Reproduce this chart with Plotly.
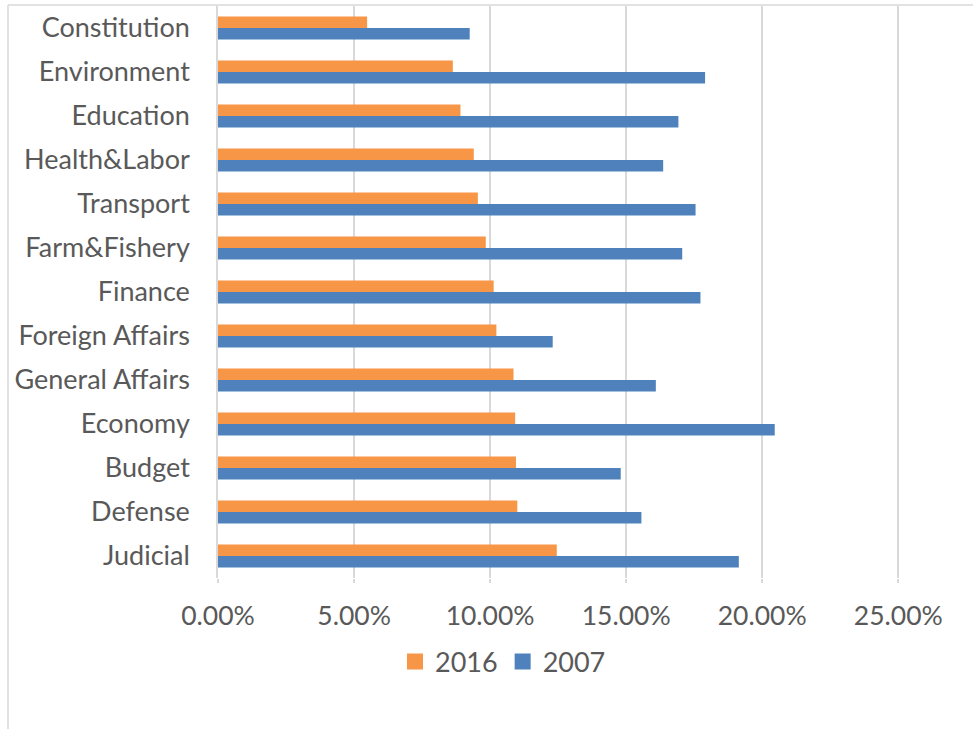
import plotly.graph_objects as go

categories = ["Constitution", "Environment", "Education", "Health&Labor", "Transport",
              "Farm&Fishery", "Finance", "Foreign Affairs", "General Affairs", "Economy",
              "Budget", "Defense", "Judicial"]
values_2016 = [0.0548, 0.0863, 0.0891, 0.0940, 0.0955, 0.0984, 0.1013, 0.1023, 0.1086,
               0.1092, 0.1095, 0.1100, 0.1245]
values_2007 = [0.0925, 0.1790, 0.1692, 0.1636, 0.1755, 0.1706, 0.1773, 0.1230, 0.1609,
               0.2046, 0.1480, 0.1556, 0.1914]
series_names = ["2016", "2007"]
series_colors = ["#F79646", "#4F81BD"]
x_ticks = [0, 0.05, 0.10, 0.15, 0.20, 0.25]
x_tick_labels = ["0.00%", "5.00%", "10.00%", "15.00%", "20.00%", "25.00%"]

W, H = 973, 729
L, R, T, B = 218, 72, 6, 151
PW, PH = W - L - R, H - T - B

def px_x(px):
    return (px - L) / PW

def px_y(py):
    return 1 - (py - T) / PH

FONT = "Lato"
GRAY = "#595959"
GRID = "#d9d9d9"

fig = go.Figure()
for name, vals, col in zip(series_names, [values_2016, values_2007], series_colors):
    fig.add_trace(go.Bar(y=categories, x=vals, orientation="h", name=name,
                         marker=dict(color=col, line=dict(width=0)), showlegend=False))
# legend entries with larger square swatches
for name, col in zip(series_names, series_colors):
    fig.add_trace(go.Scatter(x=[None], y=[None], mode="markers", name=name,
                             marker=dict(symbol="square", size=16, color=col)))

fig.update_layout(
    width=W, height=H,
    margin=dict(l=L, r=R, t=T, b=B, pad=0),
    paper_bgcolor="white", plot_bgcolor="white",
    barmode="group", bargap=0.48, bargroupgap=0,
    font=dict(family=FONT, size=27, color=GRAY),
    legend=dict(orientation="h", x=px_x(503), xanchor="center", y=px_y(662), yanchor="middle",
                font=dict(family=FONT, size=27, color=GRAY), itemwidth=30,
                bgcolor="rgba(0,0,0,0)"),
    xaxis=dict(range=[0, 0.251], tickvals=x_ticks, ticktext=x_tick_labels,
               showgrid=True, gridcolor=GRID, gridwidth=1.5, zeroline=False,
               ticks="outside", ticklen=4, tickcolor=GRID, tickwidth=1.5,
               ticklabelstandoff=10, tickfont=dict(family=FONT, size=26.5, color=GRAY),
               showline=False, fixedrange=True),
    yaxis=dict(autorange="reversed", showgrid=False, zeroline=False,
               showline=True, linecolor=GRID, linewidth=1.5, ticks="",
               ticklabelstandoff=21, tickfont=dict(family=FONT, size=27, color=GRAY),
               fixedrange=True),
    shapes=[
        dict(type="line", xref="paper", yref="paper", x0=px_x(8), x1=px_x(990),
             y0=px_y(5), y1=px_y(5), line=dict(color=GRID, width=1.5)),
        dict(type="line", xref="paper", yref="paper", x0=px_x(8), x1=px_x(8),
             y0=px_y(5), y1=px_y(740), line=dict(color=GRID, width=1.5)),
    ],
)

fig.write_html("out.html", config={"displayModeBar": False},
               post_script="document.body.style.margin='0px';document.body.style.overflow='hidden';")
